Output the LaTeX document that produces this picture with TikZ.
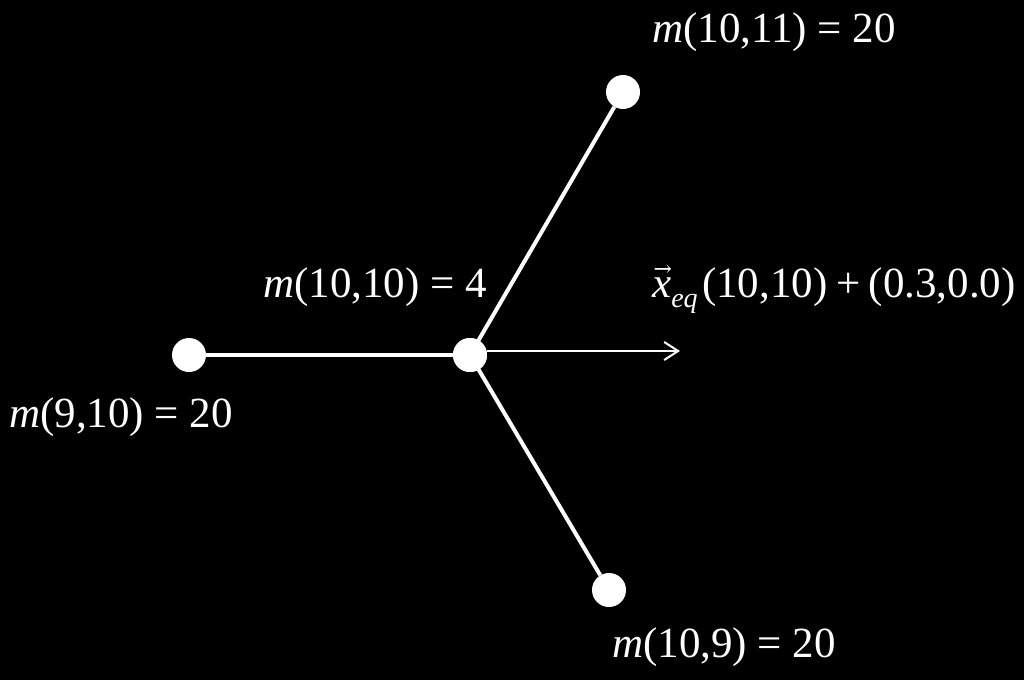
\documentclass[tikz,border=0pt]{standalone}
\usepackage{fontspec}
\setmainfont{Liberation Serif}
\newfontfamily\arrowfont{DejaVu Serif}
\usetikzlibrary{arrows.meta}
\newcommand{\eqsign}{\kern0.25em=\kern0.25em}
\newcommand{\plussign}{\kern0.2em+\kern0.2em}
\tikzset{
  dot/.style={circle, fill=white, draw=none, minimum size=34pt, inner sep=0pt},
  edge/.style={draw=white, line width=4pt},
  arr/.style={draw=white, line width=2pt, -{Straight Barb[length=14pt,width=18pt,line width=2pt]}},
  lbl/.style={text=white, font=\fontsize{43}{50}\selectfont, inner sep=0pt, anchor=base west}
}
\begin{document}
\begin{tikzpicture}[x=1pt,y=-1pt]
\useasboundingbox[fill=black] (0,0) rectangle (1024,680);
\node[dot] (c) at (470,355) {};
\node[dot] (l) at (189,355) {};
\node[dot] (t) at (623,92) {};
\node[dot] (b) at (609,590) {};
\coordinate (tip) at (680,351);
\draw[edge] (c.center) -- (l);
\draw[edge] (c.center) -- (t);
\draw[edge] (c.center) -- (b);
\node[dot] at (c.center) {};
\draw[arr] (c.east) ++(0,-4) -- (tip);
\node[lbl] (lt) at (652,42) {\textit{m}(10,11)\eqsign 20};
\node[lbl] (lc) at (263,297) {\textit{m}(10,10)\eqsign 4};
\node[lbl] (ll) at (9,427) {\textit{m}(9,10)\eqsign 20};
\node[lbl] (lb) at (612,657) {\textit{m}(10,9)\eqsign 20};
\node[lbl] (lx) at (652,297) {\smash{\rlap{\raisebox{0.48em}{\kern0.03em\arrowfont\fontsize{22}{22}\selectfont →}}}\textit{x}\raisebox{-0.25em}{\fontsize{28}{28}\selectfont\textit{eq}}\kern0.1em(10,10)\plussign(0.3,0.0)};
\end{tikzpicture}
\end{document}
